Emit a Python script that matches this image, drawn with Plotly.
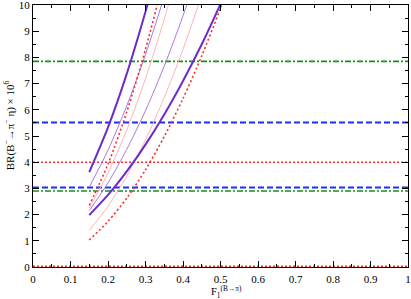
import plotly.graph_objects as go

# curve x samples (F1^(B->pi))
x_a = [0.15, 0.20, 0.25, 0.30, 0.35, 0.40]
x_b = [0.15, 0.20, 0.25, 0.30, 0.35, 0.40, 0.45, 0.50, 0.55]

thick_upper = [3.62, 5.33, 7.37, 9.74, 12.3, 15.0]
thin_purple_upper = [3.05, 4.46, 6.15, 8.11, 10.33, 12.8]
red_dot_upper = [2.35, 3.93, 5.92, 8.31, 11.11, 14.3]
pink_upper = [2.25, 3.59, 5.23, 7.19, 9.46, 12.0]

thin_purple_lower = [2.15, 3.21, 4.49, 5.97, 7.67, 9.59, 11.71, 14.0, 16.5]
pink_lower = [1.40, 2.32, 3.47, 4.85, 6.47, 8.31, 10.39, 12.7, 15.2]
thick_lower = [1.98, 2.75, 3.65, 4.67, 5.82, 7.10, 8.50, 10.04, 11.7]
red_dot_lower = [1.03, 1.74, 2.63, 3.71, 4.98, 6.43, 8.06, 9.88, 11.88]

# horizontal experimental bands
h_x = [0.0, 1.0]
green_levels = [7.85, 2.90]
blue_levels = [5.52, 3.03]
red_levels = [4.0, 0.03]

x_ticks = [0, 0.1, 0.2, 0.3, 0.4, 0.5, 0.6, 0.7, 0.8, 0.9, 1]
x_tick_labels = ["0", "0.1", "0.2", "0.3", "0.4", "0.5", "0.6", "0.7", "0.8", "0.9", "1"]
y_ticks = [0, 1, 2, 3, 4, 5, 6, 7, 8, 9, 10]

PURPLE = "#6a2ccc"
LPURPLE = "#a47ae6"
PINK = "#ffb4b4"
RED = "#ff2a2a"
BLUE = "#1f2cff"
GREEN = "#149014"
FONT = "Liberation Serif, Times New Roman, serif"

fig = go.Figure()

def hline(y, color, dash, width):
    fig.add_trace(go.Scatter(x=h_x, y=[y, y], mode="lines",
                             line=dict(color=color, dash=dash, width=width),
                             hoverinfo="skip", showlegend=False))

for y in red_levels:
    hline(y, RED, "2px,2px", 1.5)
for y in green_levels:
    hline(y, GREEN, "6px,2px,2px,2px", 1.6)
for y in blue_levels:
    hline(y, BLUE, "6px,3px", 2)

def curve(xs, ys, color, width, dash="solid"):
    fig.add_trace(go.Scatter(x=xs, y=ys, mode="lines",
                             line=dict(color=color, width=width, dash=dash, shape="spline", smoothing=0.8),
                             hoverinfo="skip", showlegend=False))

curve(x_a, pink_upper, PINK, 1)
curve(x_b, pink_lower, PINK, 1)
curve(x_a, thin_purple_upper, LPURPLE, 1)
curve(x_b, thin_purple_lower, LPURPLE, 1)
curve(x_a, red_dot_upper, RED, 1.6, "2px,2.5px")
curve(x_b, red_dot_lower, RED, 1.6, "2px,2.5px")
curve(x_a, thick_upper, PURPLE, 2)
curve(x_b, thick_lower, PURPLE, 2)

axis_common = dict(showline=True, linecolor="black", linewidth=1, mirror="allticks",
                   ticks="inside", ticklen=6, tickcolor="black", tickwidth=1,
                   showgrid=False, zeroline=False, automargin=False,
                   ticklabeloverflow="allow",
                   tickfont=dict(family=FONT, size=11, color="black"))

fig.update_xaxes(range=[0, 1], tickvals=x_ticks, ticktext=x_tick_labels,
                 ticklabelstandoff=2,
                 minor=dict(ticks="inside", ticklen=3, tickcolor="black", dtick=0.05, tick0=0),
                 **axis_common)
fig.update_yaxes(range=[0, 10], tickvals=y_ticks,
                 minor=dict(ticks="inside", ticklen=3, tickcolor="black", dtick=0.5, tick0=0),
                 **axis_common)

fig.add_annotation(text="F<sub>1</sub><sup>(B→π)</sup>", xref="paper", yref="paper",
                   x=0.515, y=-0.094, xanchor="center", yanchor="middle", showarrow=False,
                   font=dict(family=FONT, size=10.5, color="black"))
fig.add_annotation(text="BR(B<sup>−</sup>→π<sup>−</sup> η) × 10<sup>6</sup>", xref="paper", yref="paper",
                   x=-0.062, y=0.54, xanchor="center", yanchor="middle", textangle=-90, showarrow=False,
                   font=dict(family=FONT, size=11, color="black"))

fig.update_layout(width=411, height=299,
                  margin=dict(l=33, r=3, t=5, b=32),
                  paper_bgcolor="white", plot_bgcolor="white",
                  font=dict(family=FONT, color="black"),
                  showlegend=False)

fig.write_html("out.html", config={"displayModeBar": False},
               post_script="document.body.style.margin='0';document.body.style.overflow='hidden';")
